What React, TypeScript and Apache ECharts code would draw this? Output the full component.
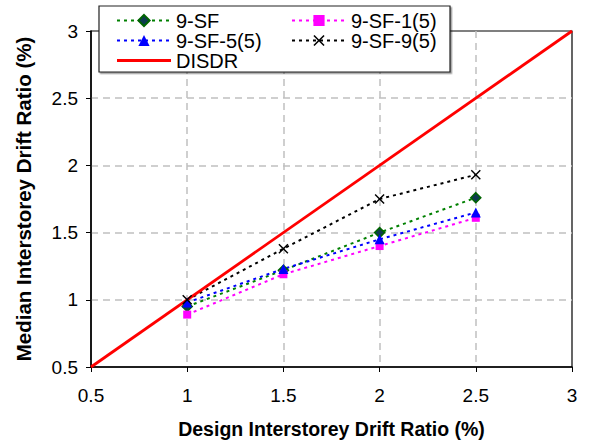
import React, { useEffect, useRef } from "react";
import * as echarts from "echarts";

const designDrift = [1, 1.5, 2, 2.5];
const sf = [0.95, 1.22, 1.5, 1.76];
const sf1 = [0.89, 1.19, 1.4, 1.61];
const sf5 = [0.98, 1.23, 1.45, 1.65];
const sf9 = [1.0, 1.38, 1.75, 1.93];
const disdrX = [0.5, 3];
const disdrY = [0.5, 3];

const FONT = "'Liberation Sans', Arial, sans-serif";
const X_MARK = "path://M0,1 L1,0 L5,4 L9,0 L10,1 L6,5 L10,9 L9,10 L5,6 L1,10 L0,9 L4,5 Z";
const LINE_ICON =
  "path://M0,0 L0.01,0 L0.01,0.01 Z M0,5.6 L54,5.6 L54,8.4 L0,8.4 Z M53.99,14 L54,14 L54,13.99 Z";

const pairs = (xs: number[], ys: number[]) => xs.map((x, i) => [x, ys[i]]);

export default function App() {
  const ref = useRef<HTMLDivElement>(null);
  useEffect(() => {
    if (!ref.current) return;
    const chart = echarts.init(ref.current, null, { renderer: "svg" });
    const dotted = (color: string) => ({ color, width: 2, type: [3, 4] as number[] });
    const gridLine = {
      show: true,
      showMinLine: false,
      showMaxLine: false,
      lineStyle: { color: "#c0c0c0", width: 1.5, type: [7, 5] as number[] },
    };
    const legendText = { fontFamily: FONT, fontSize: 20, color: "#000", lineHeight: 19 };
    chart.setOption({
      animation: false,
      textStyle: { fontFamily: FONT },
      grid: { left: 91, right: 22, top: 31, bottom: 78, show: true, borderColor: "#000", borderWidth: 1.2, backgroundColor: "#fff" },
      xAxis: {
        type: "value", min: 0.5, max: 3, interval: 0.5,
        name: "Design Interstorey Drift Ratio (%)", nameLocation: "middle", nameGap: 52,
        nameTextStyle: { fontFamily: FONT, fontWeight: "bold", fontSize: 19.5, color: "#000" },
        axisLine: { lineStyle: { color: "#000", width: 1.5 } },
        axisTick: { show: true, length: 5, lineStyle: { color: "#000" } },
        axisLabel: { fontFamily: FONT, fontSize: 19, color: "#000", margin: 19 },
        splitLine: gridLine,
      },
      yAxis: {
        type: "value", min: 0.5, max: 3, interval: 0.5,
        name: "Median Interstorey Drift Ratio (%)", nameLocation: "middle", nameGap: 57,
        nameTextStyle: { fontFamily: FONT, fontWeight: "bold", fontSize: 20.5, color: "#000" },
        axisLine: { lineStyle: { color: "#000", width: 1.5 } },
        axisTick: { show: true, length: 5, lineStyle: { color: "#000" } },
        axisLabel: { fontFamily: FONT, fontSize: 19, color: "#000", margin: 13 },
        splitLine: gridLine,
      },
      legend: [
        {
          data: ["9-SF", "9-SF-5(5)", { name: "DISDR", icon: LINE_ICON }],
          orient: "vertical", left: 116, top: 10.5, padding: 0,
          itemWidth: 54, itemHeight: 14, itemGap: 0,
          textStyle: legendText, z: 10,
        },
        {
          data: ["9-SF-1(5)", "9-SF-9(5)"],
          orient: "vertical", left: 291, top: 10.5, padding: 0,
          itemWidth: 54, itemHeight: 14, itemGap: 0,
          textStyle: legendText, z: 10,
        },
      ],
      graphic: [
        {
          type: "rect", z: 5, shape: { x: 99, y: 6, width: 351, height: 66 },
          style: { fill: "#fff", stroke: "#222", lineWidth: 1.2, shadowColor: "rgba(0,0,0,0.4)", shadowOffsetX: 1.5, shadowOffsetY: 1.5, shadowBlur: 1 },
        },
      ],
      series: [
        {
          name: "9-SF", type: "line", data: pairs(designDrift, sf),
          lineStyle: dotted("#008000"), symbol: "diamond", symbolSize: 10,
          itemStyle: { color: "#0d3b4f", borderColor: "#006400", borderWidth: 1.5 },
        },
        {
          name: "9-SF-1(5)", type: "line", data: pairs(designDrift, sf1),
          lineStyle: dotted("#ff00ff"), symbol: "rect", symbolSize: 8,
          itemStyle: { color: "#ff00ff" },
        },
        {
          name: "9-SF-5(5)", type: "line", data: pairs(designDrift, sf5),
          lineStyle: dotted("#0000ff"), symbol: "triangle", symbolSize: 10,
          itemStyle: { color: "#0000ff" },
        },
        {
          name: "9-SF-9(5)", type: "line", data: pairs(designDrift, sf9),
          lineStyle: dotted("#000000"), symbol: X_MARK, symbolSize: 10,
          itemStyle: { color: "#000" },
        },
        {
          name: "DISDR", type: "line", data: pairs(disdrX, disdrY),
          lineStyle: { color: "#ff0000", width: 2.8 }, symbol: "none",
          itemStyle: { color: "#ff0000" },
        },
      ],
    });
    return () => chart.dispose();
  }, []);
  return <div ref={ref} style={{ width: 594, height: 445, position: "absolute", left: 0, top: 0 }} />;
}
